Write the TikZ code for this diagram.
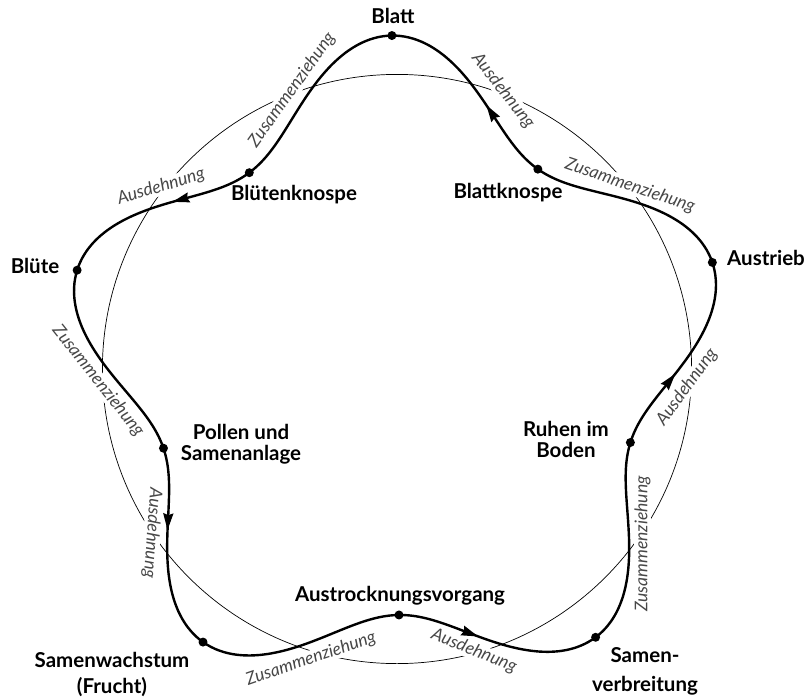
\documentclass[tikz,border=0pt]{standalone}
\usepackage{fontspec}
\setmainfont{Lato}
\begin{document}
\begin{tikzpicture}[x=1pt,y=-1pt,
  declare function={rr(\u)=289.75+44.25*(cos(5*(\u-90.7))-0.1*sin(5*(\u-90.7))*sin(5*(\u-90.7)));},
  stage/.style={font=\fontsize{20.5}{20.5}\selectfont\bfseries, align=center, inner sep=0pt, anchor=base},
  proc/.style={font=\fontsize{17.5}{20}\selectfont\itshape, text=black!72, fill=white, inner sep=0.5pt},
  dot/.style={circle, fill=black, inner sep=0pt, minimum size=9pt},
  thinc/.style={line width=0.7pt},
  thickc/.style={line width=2.4pt, line join=round},
]
\useasboundingbox (0,0) rectangle (809,699);
\def\cx{396}\def\cy{369.5}
% thin circle
\draw[thinc] (397,369) circle[radius=294.6pt];
% process labels
\node[proc, rotate=54.5] (z1) at (292,90) {Zusammenziehung};
\node[proc, rotate=17] (a1) at (161,187) {Ausdehnung};
\node[proc, rotate=-51.5] (z2) at (98,381) {Zusammenziehung};
\node[proc, rotate=-94] (a2) at (152,533) {Ausdehnung};
\node[proc, rotate=19] (z3) at (311,659) {Zusammenziehung};
\node[proc, rotate=-22] (a3) at (474,651) {Ausdehnung};
\node[proc, rotate=90] (z4) at (642.5,544) {Zusammenziehung};
\node[proc, rotate=54] (a4) at (687,387) {Ausdehnung};
\node[proc, rotate=-19] (z5) at (630,186) {Zusammenziehung};
\node[proc, rotate=-52] (a5) at (503,91) {Ausdehnung};
% thick wavy cycle
\draw[thickc] plot[domain=0:360, samples=241, smooth, variable=\t]
  ({\cx+rr(\t)*cos(\t)}, {\cy-rr(\t)*sin(\t)}) -- cycle;
% arrowheads
\foreach \a in {69.7,141.7,213.7,285.7,357.7} {
  \pgfmathsetmacro\rv{rr(\a)}
  \pgfmathsetmacro\ps{5*(\a-90.7)}
  \pgfmathsetmacro\rp{221.25*(-sin(\ps)-0.2*sin(\ps)*cos(\ps))}
  \pgfmathsetmacro\ph{atan2(\rp*sin(\a)+\rv*cos(\a), \rp*cos(\a)-\rv*sin(\a))}
  \fill[shift={({\cx+\rv*cos(\a)},{\cy-\rv*sin(\a)})}, rotate=\ph] (8.5,0) -- (-8.5,5.2) -- (-6.5,0) -- (-8.5,-5.2) -- cycle;
}
% stage dots
\node[dot] (dBlatt) at ({\cx+rr(90.7)*cos(90.7)}, {\cy-rr(90.7)*sin(90.7)}) {};
\node[dot] (dBlattk) at ({\cx+rr(54.7)*cos(54.7)}, {\cy-rr(54.7)*sin(54.7)}) {};
\node[dot] (dAustr) at ({\cx+rr(18.7)*cos(18.7)}, {\cy-rr(18.7)*sin(18.7)}) {};
\node[dot] (dRuhen) at ({\cx+rr(-17.3)*cos(-17.3)}, {\cy-rr(-17.3)*sin(-17.3)}) {};
\node[dot] (dSamv) at ({\cx+rr(-53.3)*cos(-53.3)}, {\cy-rr(-53.3)*sin(-53.3)}) {};
\node[dot] (dAustro) at ({\cx+rr(-89.3)*cos(-89.3)}, {\cy-rr(-89.3)*sin(-89.3)}) {};
\node[dot] (dSamw) at ({\cx+rr(-125.3)*cos(-125.3)}, {\cy-rr(-125.3)*sin(-125.3)}) {};
\node[dot] (dPollen) at ({\cx+rr(-161.3)*cos(-161.3)}, {\cy-rr(-161.3)*sin(-161.3)}) {};
\node[dot] (dBluete) at ({\cx+rr(162.7)*cos(162.7)}, {\cy-rr(162.7)*sin(162.7)}) {};
\node[dot] (dBlk) at ({\cx+rr(126.7)*cos(126.7)}, {\cy-rr(126.7)*sin(126.7)}) {};
% stage labels
\node[stage] (lBlatt) at (393,23) {Blatt};
\node[stage] (lBlk) at (294,200) {Blütenknospe};
\node[stage] (lBlattk) at (508,198) {Blattknospe};
\node[stage] (lAustr) at (766,265) {Austrieb};
\node[stage] (lBluete) at (35,273) {Blüte};
\node[stage] (lPollen) at (241,460) {Pollen und\\Samenanlage};
\node[stage] (lRuhen) at (566,457) {Ruhen im\\Boden};
\node[stage] (lAustro) at (400,601) {Austrocknungsvorgang};
\node[stage] (lSamw) at (112,693.5) {Samenwachstum\\[6pt](Frucht)};
\node[stage] (lSamv) at (645,691) {Samen-\\[8pt]verbreitung};
\end{tikzpicture}
\end{document}
